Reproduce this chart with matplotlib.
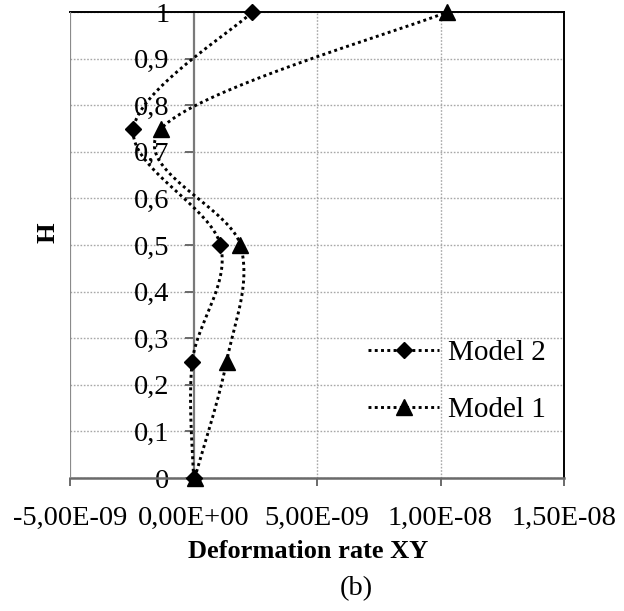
import numpy as np
import matplotlib
matplotlib.use('Agg')
import matplotlib.pyplot as plt
from matplotlib.lines import Line2D

# ---- data ----
H = [0.0, 0.25, 0.5, 0.75, 1.0]
model2 = [0.0, -0.05e-9, 1.09e-9, -2.43e-9, 2.38e-9]
model1 = [0.05e-9, 1.34e-9, 1.9e-9, -1.3e-9, 1.027e-8]
series_names = ['Model 2', 'Model 1']
xticks = [-5e-9, 0.0, 5e-9, 1e-8, 1.5e-8]
xticklabels = ['-5,00E-09', '0,00E+00', '5,00E-09', '1,00E-08', '1,50E-08']
yticks = [0, 0.1, 0.2, 0.3, 0.4, 0.5, 0.6, 0.7, 0.8, 0.9, 1.0]
yticklabels = ['0', '0,1', '0,2', '0,3', '0,4', '0,5', '0,6', '0,7', '0,8', '0,9', '1']

plt.rcParams['font.family'] = ['Liberation Serif', 'DejaVu Serif']

W, Hpx = 624, 611
fig = plt.figure(figsize=(W / 100, Hpx / 100), dpi=100)
x0, x1, y0, y1 = 70, 564, 12, 478
ax = fig.add_axes([x0 / W, 1 - y1 / Hpx, (x1 - x0) / W, (y1 - y0) / Hpx])
ax.set_xlim(xticks[0], xticks[-1])
ax.set_ylim(0, 1)

# spines / axes
ax.spines['left'].set_position(('data', 0))
ax.spines['left'].set_color('#7a7a7a')
ax.spines['left'].set_linewidth(1.6)
ax.spines['bottom'].set_color('#6a6a6a')
ax.spines['bottom'].set_linewidth(1.8)
ax.spines['top'].set_color('black')
ax.spines['top'].set_linewidth(1.4)
ax.spines['right'].set_color('black')
ax.spines['right'].set_linewidth(1.4)
ax.axvline(xticks[0], color='#8a8a8a', lw=1.6, zorder=3)

ax.set_xticks(xticks)
ax.set_xticklabels(xticklabels)
ax.set_yticks(yticks)
ax.set_yticklabels(yticklabels)
ax.tick_params(axis='x', direction='out', length=6, width=1.4, color='#6a6a6a',
               labelsize=20.5, pad=14)
ax.tick_params(axis='y', direction='out', length=6.5, width=1.4, color='#6a6a6a',
               labelsize=20.5, pad=11)
for t in ax.xaxis.get_major_ticks():
    if t.get_loc() == 0.0:
        t.tick1line.set_visible(False)

ax.grid(True, axis='y', color='#a8a8a8', lw=1.0, linestyle=(0, (1.2, 1.2)))
for xv in xticks[2:-1]:
    ax.axvline(xv, color='#a8a8a8', lw=1.0, linestyle=(0, (1.2, 1.2)), zorder=0.5)
ax.set_axisbelow(True)


def smooth(xs, ys, n=40):
    pts = ax.transData.transform(np.column_stack([xs, ys]))
    P = np.vstack([pts[0], pts, pts[-1]])
    out = []
    t = np.linspace(0, 1, n)[:, None]
    for i in range(1, len(P) - 2):
        p0, p1, p2, p3 = P[i - 1], P[i], P[i + 1], P[i + 2]
        c1 = p1 + (p2 - p0) / 6
        c2 = p2 - (p3 - p1) / 6
        seg = (1 - t) ** 3 * p1 + 3 * (1 - t) ** 2 * t * c1 + 3 * (1 - t) * t ** 2 * c2 + t ** 3 * p2
        out.append(seg if i == 1 else seg[1:])
    out = np.vstack(out)
    return ax.transData.inverted().transform(out)


dot = (0, (1.0, 1.15))
lw = 2.1
for vals, mk, ms in [(model2, 'D', 8), (model1, '^', 11)]:
    c = smooth(vals, H)
    ax.plot(c[:, 0], c[:, 1], color='black', lw=lw, linestyle=dot,
            dash_capstyle='butt', zorder=4, clip_on=False)
    ax.plot(vals, H, linestyle='none', marker=mk, ms=ms, color='black', zorder=5,
            clip_on=False)

handles = [
    Line2D([], [], color='black', lw=lw, linestyle=dot, dash_capstyle='butt',
           marker='D', ms=8),
    Line2D([], [], color='black', lw=lw, linestyle=dot, dash_capstyle='butt',
           marker='^', ms=11),
]
leg = fig.legend(handles, series_names, loc='center left',
                 bbox_to_anchor=(368 / W, 1 - 381.5 / Hpx), frameon=False,
                 fontsize=21, handlelength=2.45, handletextpad=0.3,
                 labelspacing=1.05, borderpad=0, borderaxespad=0)

fig.text(308.5 / W, 1 - 552 / Hpx, 'Deformation rate XY', ha='center', va='center',
         fontsize=19, fontweight='bold')
fig.text(48 / W, 1 - 233 / Hpx, 'H', ha='center', va='center', rotation=90,
         fontsize=19, fontweight='bold')
fig.text(356 / W, 1 - 589 / Hpx, '(b)', ha='center', va='center', fontsize=20.5)

fig.savefig('out.png', dpi=100)
